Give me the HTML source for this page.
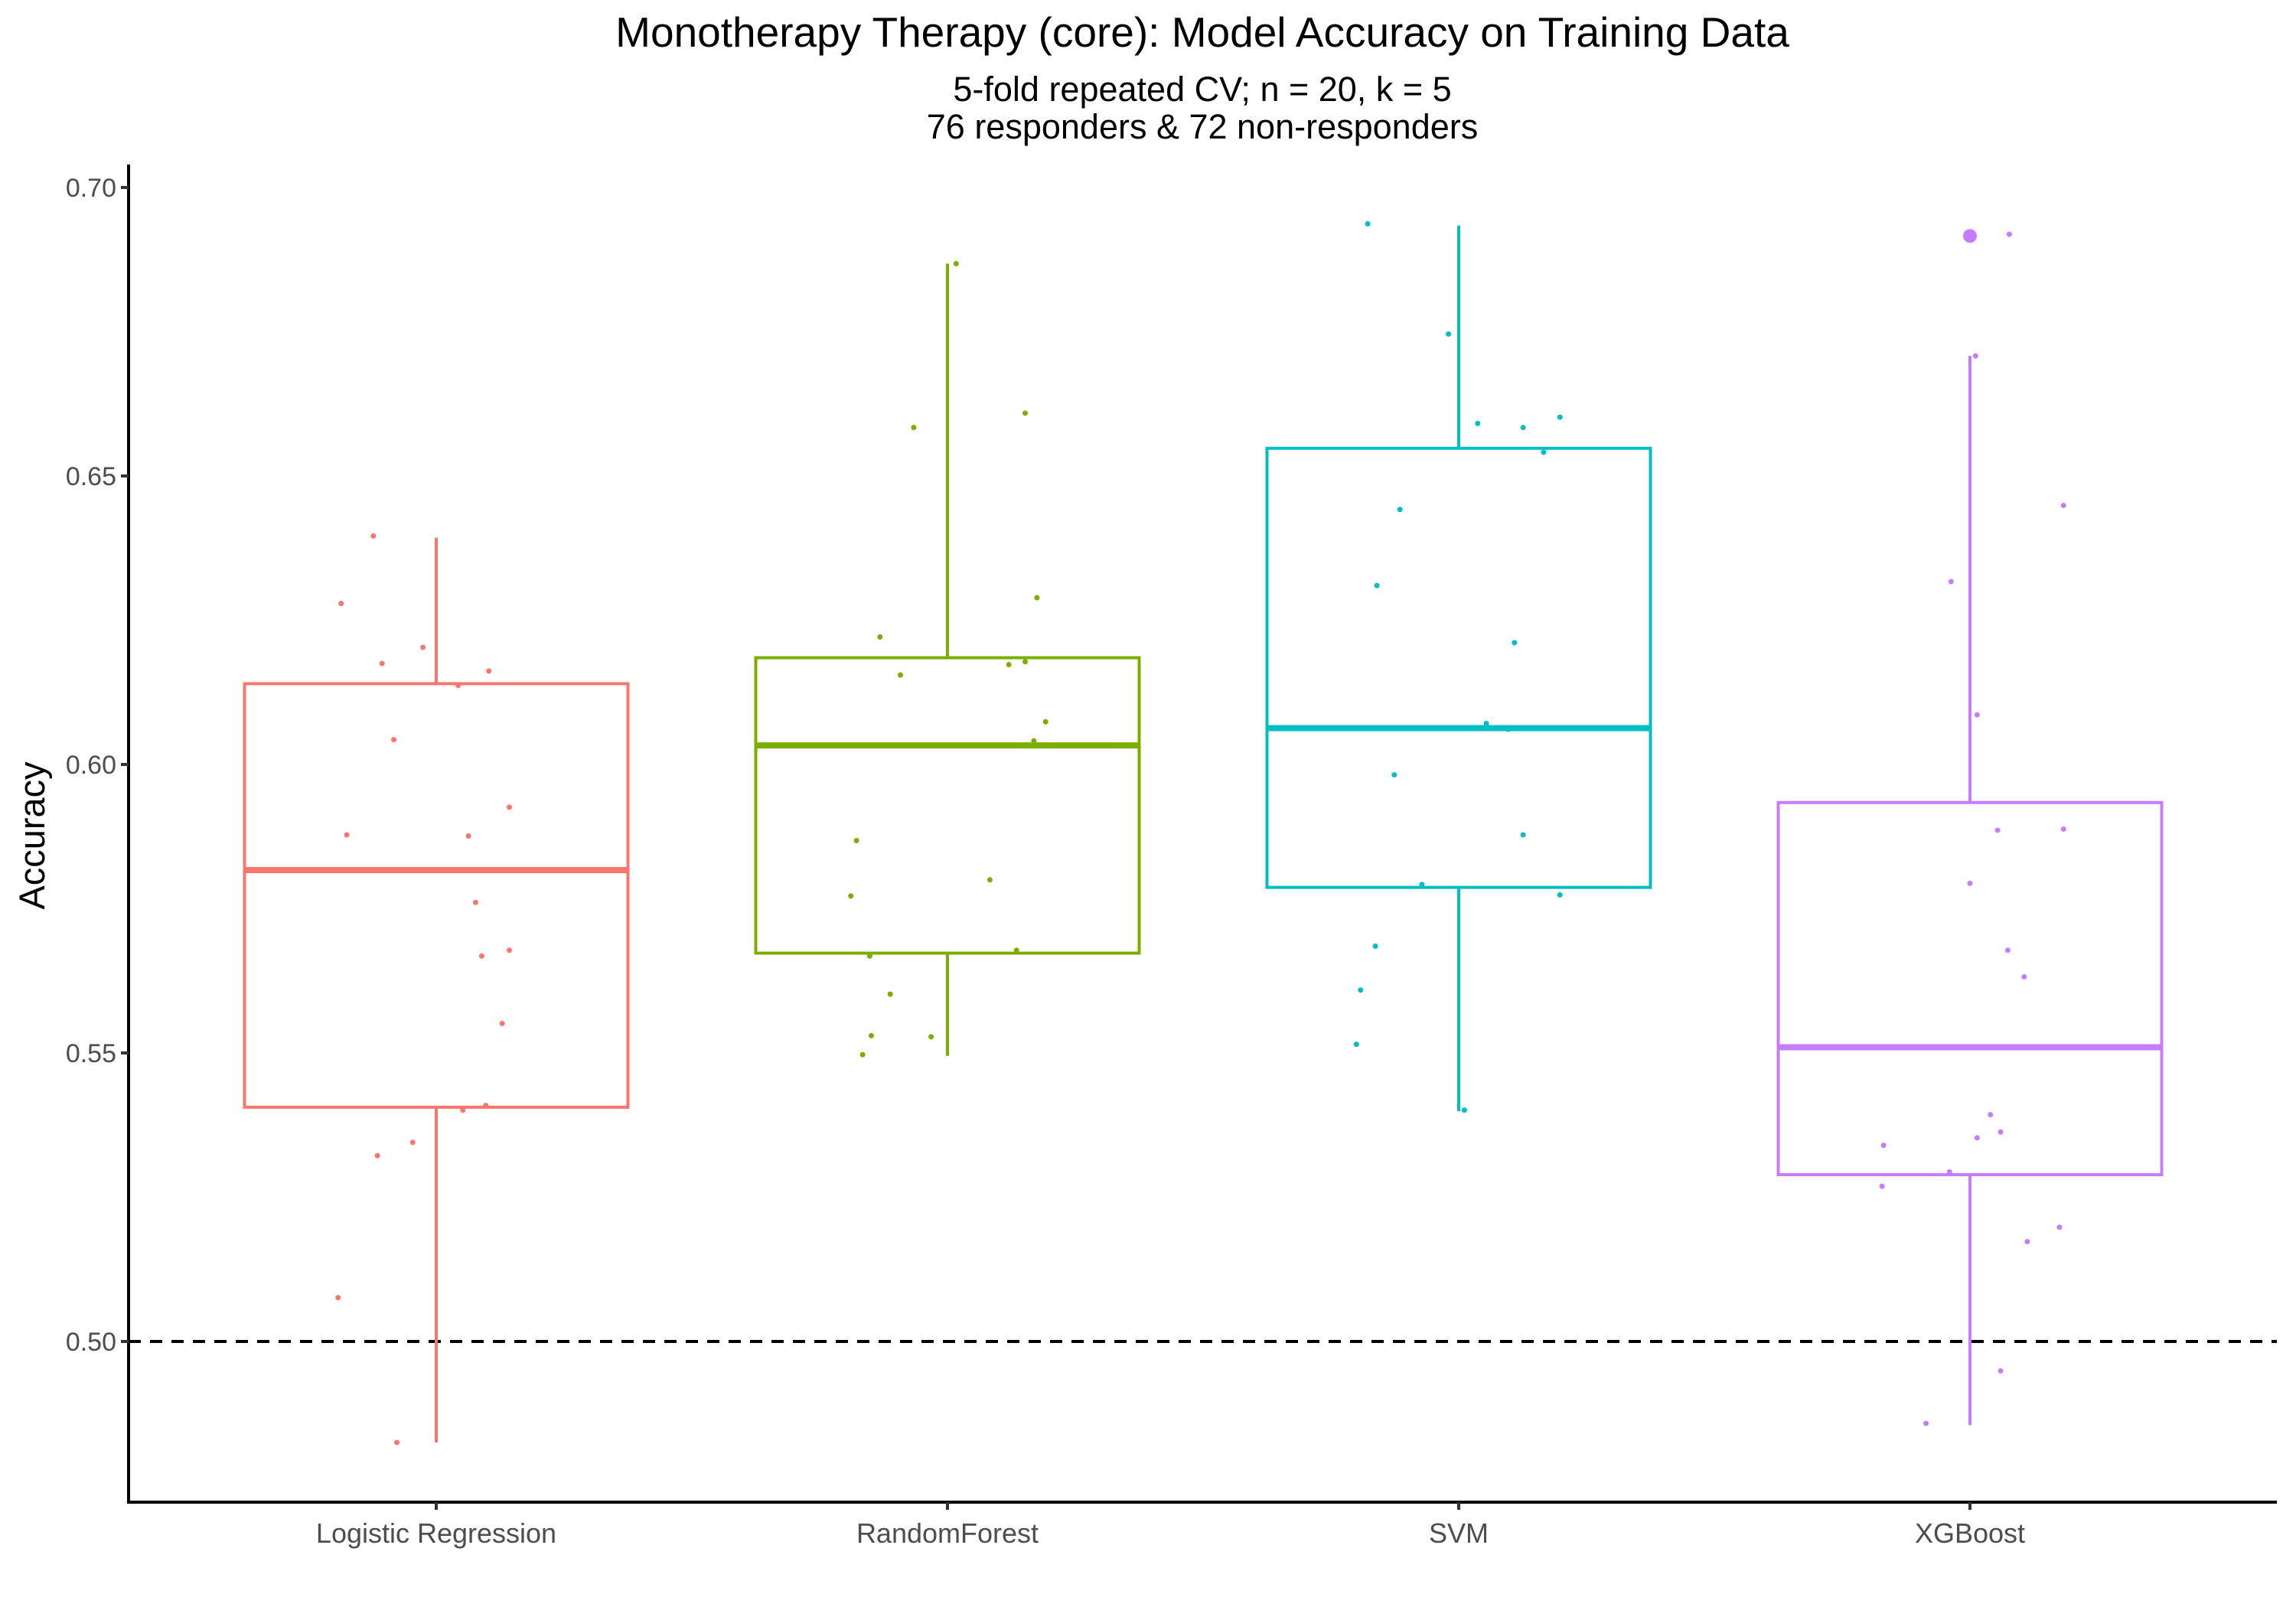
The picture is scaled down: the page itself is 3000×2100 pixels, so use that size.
<!DOCTYPE html>
<html><head><meta charset="utf-8"><style>
html,body{margin:0;padding:0;background:#fff;}
svg{display:block;font-family:"Liberation Sans",Arial,sans-serif;}
</style></head><body>
<svg id="chart" width="3000" height="2100" viewBox="0 0 3000 2100" xmlns="http://www.w3.org/2000/svg">
<text x="1571" y="61" font-size="55" text-anchor="middle" fill="#000">Monotherapy Therapy (core): Model Accuracy on Training Data</text>
<text x="1571" y="132" font-size="45" text-anchor="middle" fill="#000">5-fold repeated CV; n = 20, k = 5</text>
<text x="1571" y="181" font-size="45" text-anchor="middle" fill="#000">76 responders &amp; 72 non-responders</text>
<text x="0" y="0" font-size="47" text-anchor="middle" fill="#000" transform="translate(58,1092) rotate(-90)">Accuracy</text>
<g id="plot"></g>
</svg>
<script>
const categories = ["Logistic Regression","RandomForest","SVM","XGBoost"];
const colors = ["#F8766D","#7CAE00","#00BFC4","#C77CFF"];
const yTicks = [0.50,0.55,0.60,0.65,0.70];
const yTickLabels = ["0.50","0.55","0.60","0.65","0.70"];
const boxLower = [0.4825,0.5495,0.5399,0.4855];
const boxQ1 = [0.5406,0.5673,0.5787,0.5289];
const boxMedian = [0.5817,0.6033,0.6063,0.5510];
const boxQ3 = [0.6140,0.6185,0.6548,0.5934];
const boxUpper = [0.6393,0.6868,0.6934,0.6708];
const outlierGroup = [3];
const outlierValue = [0.6916];
const valuesLR = [0.6396,0.6279,0.6175,0.6203,0.6137,0.6162,0.6043,0.5878,0.5876,0.5926,0.5761,0.5668,0.5678,0.5551,0.5409,0.5401,0.5345,0.5322,0.5076,0.4825];
const jitterLR = [-0.123,-0.186,-0.106,-0.026,0.043,0.103,-0.083,-0.175,0.063,0.143,0.077,0.089,0.143,0.129,0.097,0.052,-0.046,-0.115,-0.192,-0.077];
const valuesRF = [0.6868,0.6609,0.6584,0.6289,0.6221,0.6155,0.6173,0.6178,0.6074,0.6033,0.6041,0.5868,0.5772,0.5800,0.5668,0.5678,0.5602,0.5530,0.5528,0.5497];
const jitterRF = [0.017,0.152,-0.066,0.175,-0.132,-0.092,0.120,0.152,0.192,0.074,0.169,-0.178,-0.189,0.083,-0.152,0.135,-0.112,-0.149,-0.032,-0.166];
const valuesSVM = [0.6937,0.6746,0.6591,0.6584,0.6602,0.6541,0.6442,0.6310,0.6211,0.6071,0.6061,0.6063,0.5982,0.5878,0.5792,0.5774,0.5685,0.5609,0.5515,0.5401];
const jitterSVM = [-0.178,-0.020,0.037,0.126,0.198,0.166,-0.115,-0.160,0.109,0.054,0.097,-0.054,-0.126,0.126,-0.072,0.198,-0.163,-0.192,-0.200,0.011];
const valuesXGB = [0.6919,0.6708,0.6449,0.6317,0.6086,0.5886,0.5888,0.5794,0.5678,0.5632,0.5393,0.5363,0.5353,0.5340,0.5294,0.5269,0.5198,0.5173,0.4949,0.4858];
const jitterXGB = [0.077,0.011,0.183,-0.037,0.014,0.054,0.183,0.000,0.074,0.106,0.040,0.060,0.014,-0.169,-0.040,-0.172,0.175,0.112,0.060,-0.086];
const refLine = 0.5;

const NS="http://www.w3.org/2000/svg";
const g=document.getElementById('plot');
const X0=168, X1=2975, Y0=1963, YTOP=215;
const catStep=668, catStart=570;
function xScale(i){return catStart+i*catStep;}
function yScale(v){return 1753-(v-0.5)/0.2*1508;}
function mk(tag,attrs){const e=document.createElementNS(NS,tag);for(const k in attrs)e.setAttribute(k,attrs[k]);g.appendChild(e);return e;}

let rl=mk('line',{x1:X0,x2:X1,y1:yScale(refLine),y2:yScale(refLine),stroke:'#000','stroke-width':4,'stroke-dasharray':'16,12'});



const boxW=501;
categories.forEach((c,i)=>{
  const cx=xScale(i), col=colors[i];
  let w1=mk('line',{x1:cx,x2:cx,y1:yScale(boxUpper[i]),y2:yScale(boxQ3[i]),stroke:col,'stroke-width':4});
  
  
  let w2=mk('line',{x1:cx,x2:cx,y1:yScale(boxQ1[i]),y2:yScale(boxLower[i]),stroke:col,'stroke-width':4});
  
  
  let r=mk('rect',{x:cx-boxW/2,y:yScale(boxQ3[i]),width:boxW,height:yScale(boxQ1[i])-yScale(boxQ3[i]),fill:'#fff',stroke:col,'stroke-width':4});
  
  
  let m=mk('line',{x1:cx-boxW/2,x2:cx+boxW/2,y1:yScale(boxMedian[i]),y2:yScale(boxMedian[i]),stroke:col,'stroke-width':8});
  
  
});
outlierGroup.forEach((gi,k)=>{
  let o=mk('circle',{cx:xScale(gi),cy:yScale(outlierValue[k]),r:9,fill:colors[gi]});
  
  
});
const allVals=[valuesLR,valuesRF,valuesSVM,valuesXGB];
const allJit=[jitterLR,jitterRF,jitterSVM,jitterXGB];
allVals.forEach((vals,i)=>{
  vals.forEach((v,j)=>{
    let p=mk('circle',{cx:xScale(i+allJit[i][j]),cy:yScale(v),r:3.5,fill:colors[i]});
    
    
  });
});
let ya=mk('line',{x1:X0,x2:X0,y1:YTOP,y2:Y0+2,stroke:'#000','stroke-width':4});


let xa=mk('line',{x1:X0-2,x2:X1,y1:Y0,y2:Y0,stroke:'#000','stroke-width':4});


yTicks.forEach((t,k)=>{
  const y=yScale(t);
  let tk=mk('line',{x1:X0-10,x2:X0,y1:y,y2:y,stroke:'#333','stroke-width':4});
  
  
  let tl=mk('text',{x:X0-16,y:y+12,'font-size':34,'text-anchor':'end',fill:'#4d4d4d'});
  tl.textContent=yTickLabels[k];
  
  
});
categories.forEach((c,i)=>{
  const x=xScale(i);
  let tk=mk('line',{x1:x,x2:x,y1:Y0,y2:Y0+10,stroke:'#333','stroke-width':4});
  
  
  let tl=mk('text',{x:x,y:2016,'font-size':36,'text-anchor':'middle',fill:'#4d4d4d'});
  tl.textContent=c;
  
  
});
</script>
</body></html>
